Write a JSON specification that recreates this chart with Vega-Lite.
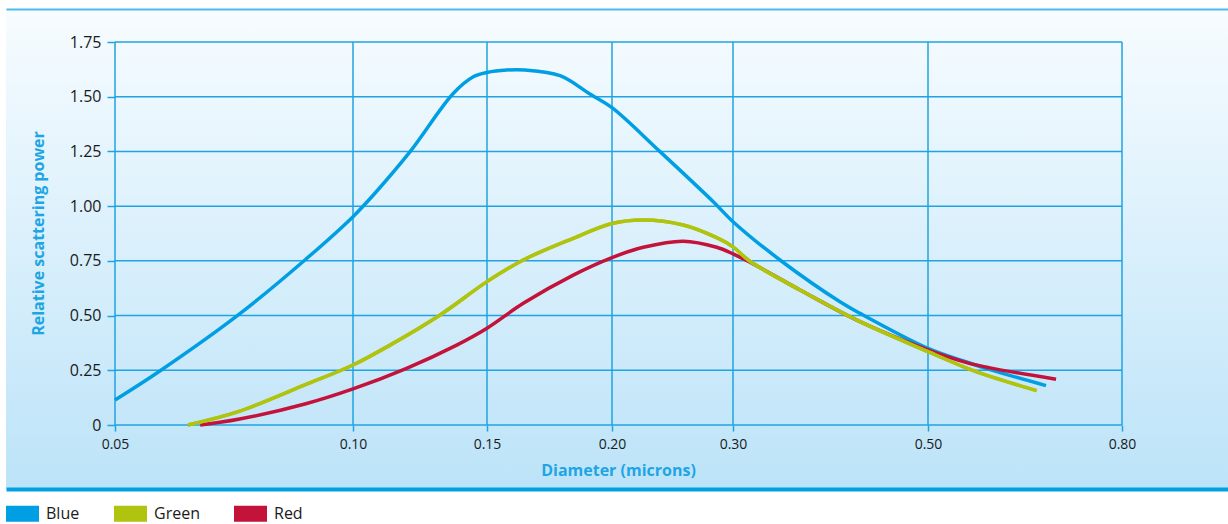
{
  "$schema": "https://vega.github.io/schema/vega-lite/v6.json",
  "width": 1222,
  "height": 480,
  "autosize": {"type": "none"},
  "padding": {"left": 6, "top": 9, "right": 0, "bottom": 35},
  "background": "#ffffff",
  "config": {
    "font": "Open Sans",
    "view": {
      "stroke": null,
      "fill": {
        "gradient": "linear", "x1": 0, "y1": 0, "x2": 0, "y2": 1,
        "stops": [{"offset": 0, "color": "#f7fcff"}, {"offset": 1, "color": "#bce3f8"}]
      }
    },
    "axis": {"grid": false}
  },
  "datasets": {
    "gridx": [{"d": 0.05}, {"d": 0.1}, {"d": 0.15}, {"d": 0.2}, {"d": 0.3}, {"d": 0.5}, {"d": 0.8}],
    "gridy": [{"p": 0}, {"p": 0.25}, {"p": 0.5}, {"p": 0.75}, {"p": 1.0}, {"p": 1.25}, {"p": 1.5}, {"p": 1.75}],
    "curves": [
      {"diameter": 0.05, "power": 0.114, "color": "Blue"},
      {"diameter": 0.0595, "power": 0.248, "color": "Blue"},
      {"diameter": 0.0759, "power": 0.503, "color": "Blue"},
      {"diameter": 0.0899, "power": 0.754, "color": "Blue"},
      {"diameter": 0.10, "power": 0.952, "color": "Blue"},
      {"diameter": 0.1076, "power": 1.051, "color": "Blue"},
      {"diameter": 0.1213, "power": 1.249, "color": "Blue"},
      {"diameter": 0.1374, "power": 1.515, "color": "Blue"},
      {"diameter": 0.1449, "power": 1.591, "color": "Blue"},
      {"diameter": 0.15, "power": 1.611, "color": "Blue"},
      {"diameter": 0.1579, "power": 1.622, "color": "Blue"},
      {"diameter": 0.1652, "power": 1.622, "color": "Blue"},
      {"diameter": 0.1792, "power": 1.596, "color": "Blue"},
      {"diameter": 0.1912, "power": 1.512, "color": "Blue"},
      {"diameter": 0.20, "power": 1.450, "color": "Blue"},
      {"diameter": 0.2397, "power": 1.249, "color": "Blue"},
      {"diameter": 0.2837, "power": 1.020, "color": "Blue"},
      {"diameter": 0.30, "power": 0.929, "color": "Blue"},
      {"diameter": 0.3482, "power": 0.754, "color": "Blue"},
      {"diameter": 0.4097, "power": 0.563, "color": "Blue"},
      {"diameter": 0.4303, "power": 0.510, "color": "Blue"},
      {"diameter": 0.50, "power": 0.350, "color": "Blue"},
      {"diameter": 0.5598, "power": 0.288, "color": "Blue"},
      {"diameter": 0.5959, "power": 0.253, "color": "Blue"},
      {"diameter": 0.6825, "power": 0.180, "color": "Blue"},
      {"diameter": 0.0679, "power": 0.0, "color": "Red"},
      {"diameter": 0.0759, "power": 0.026, "color": "Red"},
      {"diameter": 0.0899, "power": 0.096, "color": "Red"},
      {"diameter": 0.10, "power": 0.165, "color": "Red"},
      {"diameter": 0.12, "power": 0.259, "color": "Red"},
      {"diameter": 0.1387, "power": 0.365, "color": "Red"},
      {"diameter": 0.15, "power": 0.442, "color": "Red"},
      {"diameter": 0.1645, "power": 0.556, "color": "Red"},
      {"diameter": 0.1845, "power": 0.685, "color": "Red"},
      {"diameter": 0.20, "power": 0.765, "color": "Red"},
      {"diameter": 0.2259, "power": 0.812, "color": "Red"},
      {"diameter": 0.2589, "power": 0.840, "color": "Red"},
      {"diameter": 0.2865, "power": 0.812, "color": "Red"},
      {"diameter": 0.30, "power": 0.782, "color": "Red"},
      {"diameter": 0.3174, "power": 0.744, "color": "Red"},
      {"diameter": 0.3687, "power": 0.617, "color": "Red"},
      {"diameter": 0.4303, "power": 0.472, "color": "Red"},
      {"diameter": 0.50, "power": 0.343, "color": "Red"},
      {"diameter": 0.5598, "power": 0.285, "color": "Red"},
      {"diameter": 0.5959, "power": 0.261, "color": "Red"},
      {"diameter": 0.698, "power": 0.209, "color": "Red"},
      {"diameter": 0.0653, "power": 0.0, "color": "Green"},
      {"diameter": 0.0759, "power": 0.061, "color": "Green"},
      {"diameter": 0.0899, "power": 0.183, "color": "Green"},
      {"diameter": 0.10, "power": 0.274, "color": "Green"},
      {"diameter": 0.1138, "power": 0.365, "color": "Green"},
      {"diameter": 0.1325, "power": 0.503, "color": "Green"},
      {"diameter": 0.15, "power": 0.655, "color": "Green"},
      {"diameter": 0.1645, "power": 0.754, "color": "Green"},
      {"diameter": 0.1845, "power": 0.853, "color": "Green"},
      {"diameter": 0.20, "power": 0.921, "color": "Green"},
      {"diameter": 0.2259, "power": 0.937, "color": "Green"},
      {"diameter": 0.2589, "power": 0.914, "color": "Green"},
      {"diameter": 0.2865, "power": 0.856, "color": "Green"},
      {"diameter": 0.30, "power": 0.814, "color": "Green"},
      {"diameter": 0.3174, "power": 0.748, "color": "Green"},
      {"diameter": 0.3687, "power": 0.617, "color": "Green"},
      {"diameter": 0.4303, "power": 0.472, "color": "Green"},
      {"diameter": 0.50, "power": 0.335, "color": "Green"},
      {"diameter": 0.5598, "power": 0.260, "color": "Green"},
      {"diameter": 0.5959, "power": 0.222, "color": "Green"},
      {"diameter": 0.668, "power": 0.157, "color": "Green"}
    ]
  },
  "resolve": {"axis": {"x": "independent"}},
  "layer": [
    {
      "data": {"name": "gridy"},
      "mark": {"type": "rule", "color": "#1fa3e2", "strokeWidth": 1.5},
      "encoding": {
        "y": {"field": "p", "type": "quantitative",
              "scale": {"domain": [0, 1.75], "range": [416, 33], "nice": false, "zero": false},
              "axis": {"orient": "left", "offset": -109, "domain": false, "grid": false,
                       "values": [0, 0.25, 0.5, 0.75, 1.0, 1.25, 1.5, 1.75],
                       "labelExpr": "datum.value == 0 ? '0' : format(datum.value, '.2f')",
                       "ticks": true, "tickSize": 8, "tickColor": "#1fa3e2", "tickWidth": 1.5,
                       "labelFont": "Open Sans", "labelFontSize": 16, "labelColor": "#1a1a1a", "labelPadding": 6,
                       "title": "Relative scattering power", "titleFont": "Open Sans", "titleFontSize": 16, "titleFontWeight": "bold",
                       "titleColor": "#1ea5e4", "titleX": -77, "titleY": 224, "titleAngle": -90, "titleBaseline": "middle", "titleAlign": "center"}},
        "x": {"datum": 0.05, "type": "quantitative",
              "scale": {"domain": [0, 0.05, 0.1, 0.15, 0.2, 0.3, 0.5, 0.8, 1.0], "range": [0, 109, 347, 481, 606, 727, 922, 1116, 1222], "nice": false, "zero": false},
              "axis": {"orient": "bottom", "domain": true, "domainColor": "#00a0e3", "domainWidth": 4, "ticks": false, "labels": false, "title": null, "grid": false}},
        "x2": {"datum": 0.8}
      }
    },
    {
      "data": {"name": "gridx"},
      "mark": {"type": "rule", "color": "#1fa3e2", "strokeWidth": 1.5},
      "encoding": {
        "x": {"field": "d", "type": "quantitative",
              "scale": {"domain": [0, 0.05, 0.1, 0.15, 0.2, 0.3, 0.5, 0.8, 1.0], "range": [0, 109, 347, 481, 606, 727, 922, 1116, 1222], "nice": false, "zero": false},
              "axis": {"orient": "top", "domain": true, "domainColor": "#4dbbec", "domainWidth": 2, "ticks": false, "labels": false, "title": null, "grid": false}},
        "y": {"datum": 0, "type": "quantitative"},
        "y2": {"datum": 1.75}
      }
    },
    {
      "data": {"name": "curves"},
      "mark": {"type": "line", "interpolate": "catmull-rom", "strokeWidth": 3.5, "strokeCap": "butt"},
      "encoding": {
        "x": {"field": "diameter", "type": "quantitative",
              "scale": {"domain": [0, 0.05, 0.1, 0.15, 0.2, 0.3, 0.5, 0.8, 1.0], "range": [0, 109, 347, 481, 606, 727, 922, 1116, 1222], "nice": false, "zero": false},
              "axis": {"orient": "bottom", "offset": -64, "domain": false, "grid": false,
                       "values": [0.05, 0.1, 0.15, 0.2, 0.3, 0.5, 0.8], "format": ".2f",
                       "ticks": true, "tickSize": 6, "tickColor": "#1fa3e2", "tickWidth": 1.5,
                       "labelFont": "Open Sans", "labelFontSize": 14, "labelColor": "#1a1a1a", "labelPadding": 6,
                       "title": "Diameter (microns)", "titleFont": "Open Sans", "titleFontSize": 16, "titleFontWeight": "bold",
                       "titleColor": "#1ea5e4", "titleX": 612, "titleY": 50, "titleBaseline": "alphabetic", "titleAlign": "center"}},
        "y": {"field": "power", "type": "quantitative"},
        "color": {"field": "color", "type": "nominal",
                  "scale": {"domain": ["Blue", "Green", "Red"], "range": ["#009fe3", "#afc30f", "#c3133a"]},
                  "legend": {"orient": "none", "legendX": 0, "legendY": 488, "direction": "horizontal", "title": null,
                             "symbolType": "M-1,-0.485H1V0.485H-1Z", "symbolSize": 1089, "symbolStrokeWidth": 0,
                             "labelFont": "Open Sans", "labelFontSize": 16, "labelColor": "#1a1a1a", "labelOffset": 7,
                             "columnPadding": 34, "padding": 0,
                             "encode": {"symbols": {"update": {"fill": {"scale": "color", "field": "value"}, "fillOpacity": {"value": 1}, "opacity": {"value": 1}}}}}}
      }
    },
    {
      "data": {"name": "curves"},
      "transform": [{"filter": "datum.color === 'Green'"}],
      "mark": {"type": "line", "interpolate": "catmull-rom", "strokeWidth": 3.5, "strokeCap": "butt"},
      "encoding": {
        "x": {"field": "diameter", "type": "quantitative", "axis": null},
        "y": {"field": "power", "type": "quantitative"},
        "color": {"field": "color", "type": "nominal"}
      }
    }
  ]
}
